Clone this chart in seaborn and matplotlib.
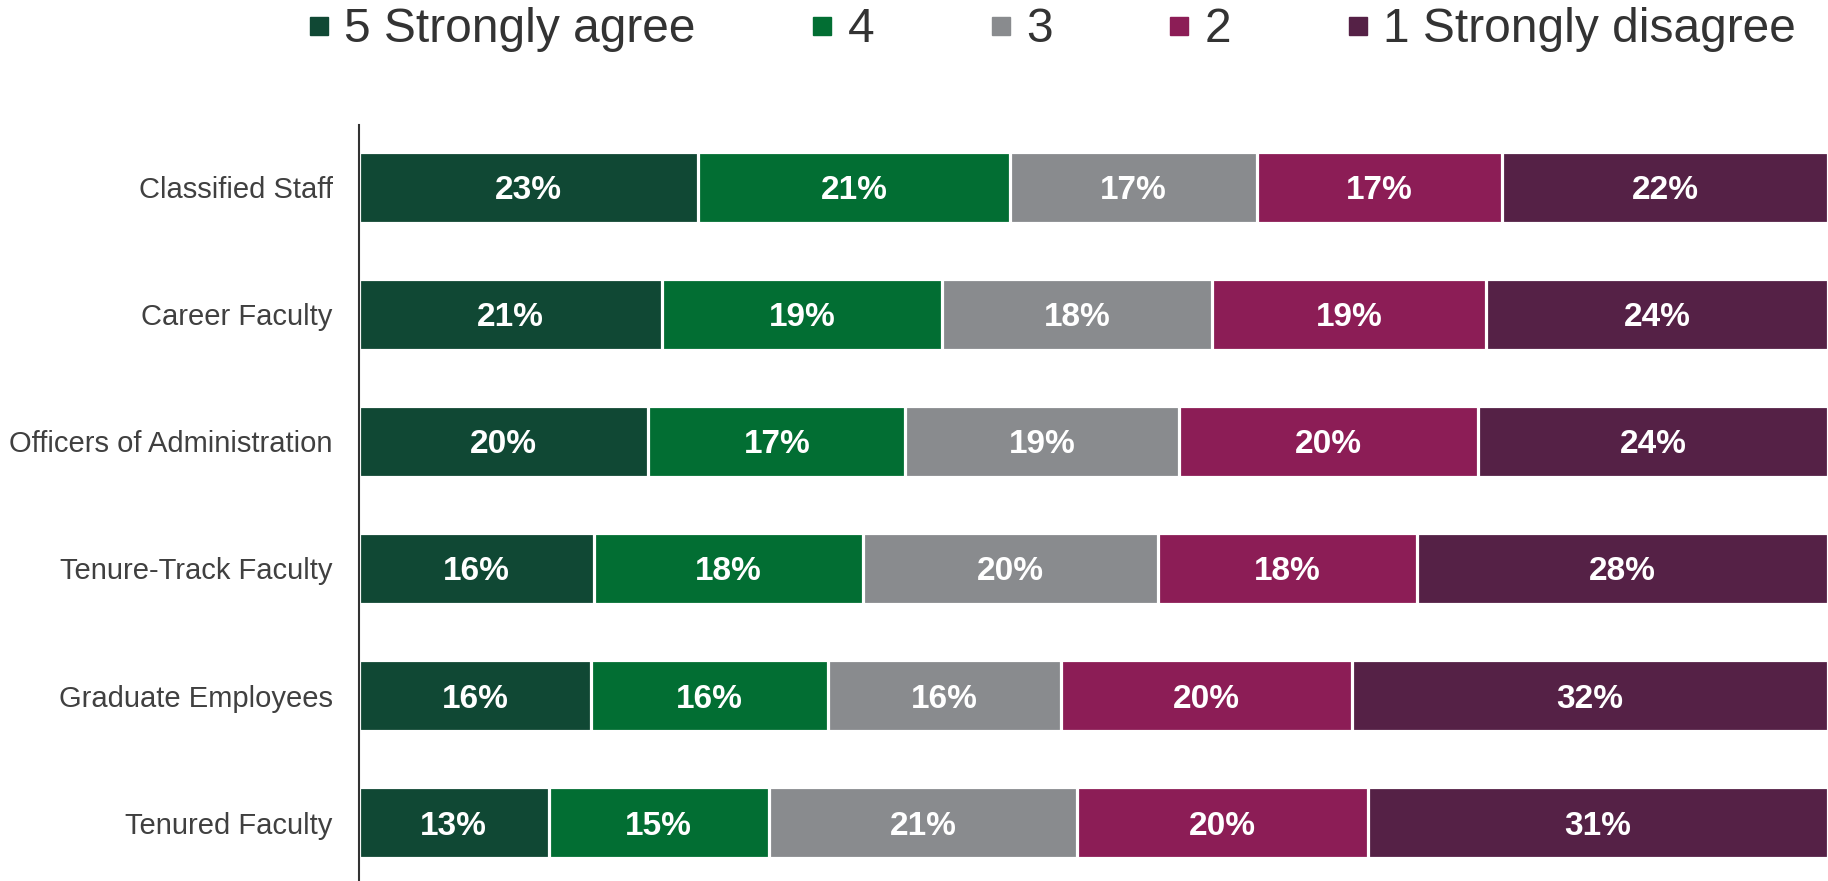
import numpy as np
import pandas as pd
import matplotlib
matplotlib.use("Agg")
import matplotlib.pyplot as plt
from matplotlib.lines import Line2D
import seaborn as sns

groups = ["Classified Staff", "Career Faculty", "Officers of Administration",
          "Tenure-Track Faculty", "Graduate Employees", "Tenured Faculty"]
responses = ["5 Strongly agree", "4", "3", "2", "1 Strongly disagree"]

# share of each response (%)
agree5 = [23.1, 20.6, 19.7, 16.0, 15.8, 12.9]
agree4 = [21.2, 19.1, 17.5, 18.3, 16.1, 15.0]
neutral3 = [16.8, 18.4, 18.6, 20.1, 15.9, 21.0]
disagree2 = [16.7, 18.6, 20.4, 17.6, 19.8, 19.8]
disagree1 = [22.2, 23.3, 23.8, 28.0, 32.4, 31.3]

# labels as printed on the chart
lab5 = [23, 21, 20, 16, 16, 13]
lab4 = [21, 19, 17, 18, 16, 15]
lab3 = [17, 18, 19, 20, 16, 21]
lab2 = [17, 19, 20, 18, 20, 20]
lab1 = [22, 24, 24, 28, 32, 31]

colors = ["#104834", "#026e33", "#898b8e", "#8c1d56", "#552146"]

sns.set_style("white")
plt.rcParams["font.family"] = ["Liberation Sans", "DejaVu Sans"]

vals = np.array([agree5, agree4, neutral3, disagree2, disagree1])
labs = np.array([lab5, lab4, lab3, lab2, lab1])
cum = vals.cumsum(axis=0)

fig = plt.figure(figsize=(18.28, 8.81), dpi=100)
ax = fig.add_axes([0.1964, 0.0, 0.8036, 0.858])

# stacked look: draw cumulative totals from longest to shortest
for k in range(len(responses) - 1, -1, -1):
    df = pd.DataFrame({"group": groups, "value": cum[k]})
    sns.barplot(data=df, x="value", y="group", orient="h", color=colors[k],
                saturation=1, width=0.56, edgecolor="white", linewidth=2.3, ax=ax)

for k in range(len(responses)):
    left = cum[k] - vals[k]
    for i in range(len(groups)):
        ax.text(left[i] + vals[k][i] / 2, i, f"{labs[k][i]}%", color="white",
                fontsize=24, fontweight="bold", ha="center", va="center_baseline")

ax.set_xlim(0, 100)
ax.set_ylim(5.46, -0.49)
ax.set_xlabel("")
ax.set_ylabel("")
ax.set_xticks([])
for s in ["top", "right", "bottom"]:
    ax.spines[s].set_visible(False)
ax.spines["left"].set_color("#333333")
ax.spines["left"].set_linewidth(1.5)
ax.tick_params(axis="y", length=0, pad=19, labelsize=21, labelcolor="#404040")

handles = [Line2D([], [], marker="s", linestyle="none", markersize=13,
                  markerfacecolor=c, markeredgecolor=c) for c in colors]
fig.legend(handles, responses, loc="center", bbox_to_anchor=(0.5755, 0.966),
           ncol=5, frameon=False, fontsize=34.5, labelcolor="#333333",
           handlelength=0.45, handletextpad=0.3, columnspacing=2.42)

fig.savefig("out.png", dpi=100)
